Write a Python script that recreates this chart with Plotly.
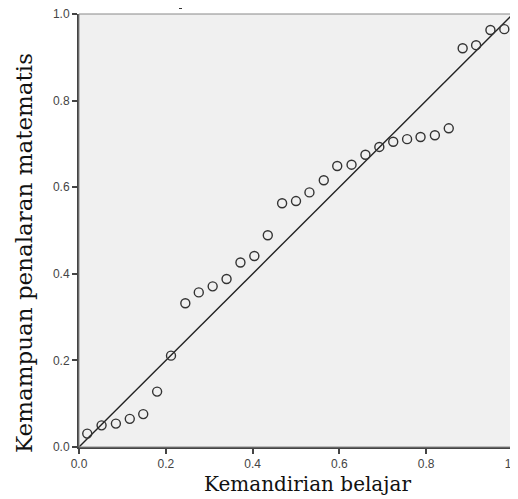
import plotly.graph_objects as go

# Observed cumulative probability (x) vs expected cumulative probability (y)
obs_cum_prob = [0.019, 0.052, 0.085, 0.117, 0.148, 0.180, 0.212, 0.245, 0.276, 0.308,
                0.340, 0.372, 0.404, 0.435, 0.468, 0.500, 0.531, 0.564, 0.595, 0.628,
                0.660, 0.692, 0.724, 0.756, 0.787, 0.820, 0.852, 0.884, 0.915, 0.948, 0.980]
exp_cum_prob = [0.031, 0.050, 0.054, 0.065, 0.076, 0.128, 0.211, 0.332, 0.357, 0.371,
                0.388, 0.426, 0.441, 0.489, 0.563, 0.568, 0.588, 0.616, 0.649, 0.652,
                0.675, 0.693, 0.705, 0.711, 0.716, 0.720, 0.736, 0.921, 0.928, 0.963, 0.965]
ref_line = [0.0, 1.0]
tick_vals = [0.0, 0.2, 0.4, 0.6, 0.8, 1.0]
tick_text = ["0.0", "0.2", "0.4", "0.6", "0.8", "1.0"]
x_title = "Kemandirian belajar"
y_title = "Kemampuan penalaran matematis"

OFF = 8  # page body margin in the browser
W, H = 518 - OFF, 499 - OFF
ML, MR, MT, MB = 79 - OFF, 5, 14 - OFF, 52
PW, PH = W - ML - MR, H - MT - MB


def px_x(xabs):
    return (xabs - OFF - ML) / PW


def px_y(yabs):
    return (H - MB - (yabs - OFF)) / PH


fig = go.Figure()
fig.add_trace(go.Scatter(x=ref_line, y=ref_line, mode="lines",
                         line=dict(color="#222222", width=1.4), hoverinfo="skip",
                         showlegend=False))
fig.add_trace(go.Scatter(x=obs_cum_prob, y=exp_cum_prob, mode="markers",
                         marker=dict(symbol="circle-open", size=9, color="#333333",
                                     line=dict(color="#333333", width=1.4)),
                         showlegend=False))

axis_common = dict(range=[0, 1], tickvals=tick_vals, ticktext=tick_text,
                   ticks="outside", ticklen=5, tickwidth=1.5, tickcolor="#444444",
                   showgrid=False, zeroline=False, showline=True, linewidth=2,
                   linecolor="#444444", automargin=False, ticklabeloverflow="allow",
                   tickfont=dict(family="Liberation Sans, Arial", size=12, color="#444444"))

fig.update_layout(
    width=W, height=H,
    margin=dict(l=ML, r=MR, t=MT, b=MB),
    paper_bgcolor="white", plot_bgcolor="#F0F0F0",
    xaxis=dict(**axis_common),
    yaxis=dict(**axis_common),
    shapes=[
        dict(type="rect", xref="paper", yref="paper", x0=0, y0=0, x1=1, y1=1,
             line=dict(color="#888888", width=1), layer="above"),
        # tiny stray mark above the plot (empty title remnant)
        dict(type="line", xref="paper", yref="paper", x0=px_x(179), x1=px_x(182),
             y0=px_y(8), y1=px_y(8), line=dict(color="#333333", width=2)),
    ],
    annotations=[
        dict(text=x_title, xref="paper", yref="paper", x=px_x(307),
             y=px_y(484), showarrow=False, xanchor="center", yanchor="middle",
             font=dict(family="DejaVu Serif", size=20, color="#111111")),
        dict(text=y_title, xref="paper", yref="paper", x=px_x(24),
             y=px_y(253), showarrow=False, xanchor="center", yanchor="middle",
             textangle=-90,
             font=dict(family="DejaVu Serif", size=23, color="#111111")),
    ],
)

fig.write_html("out.html")
